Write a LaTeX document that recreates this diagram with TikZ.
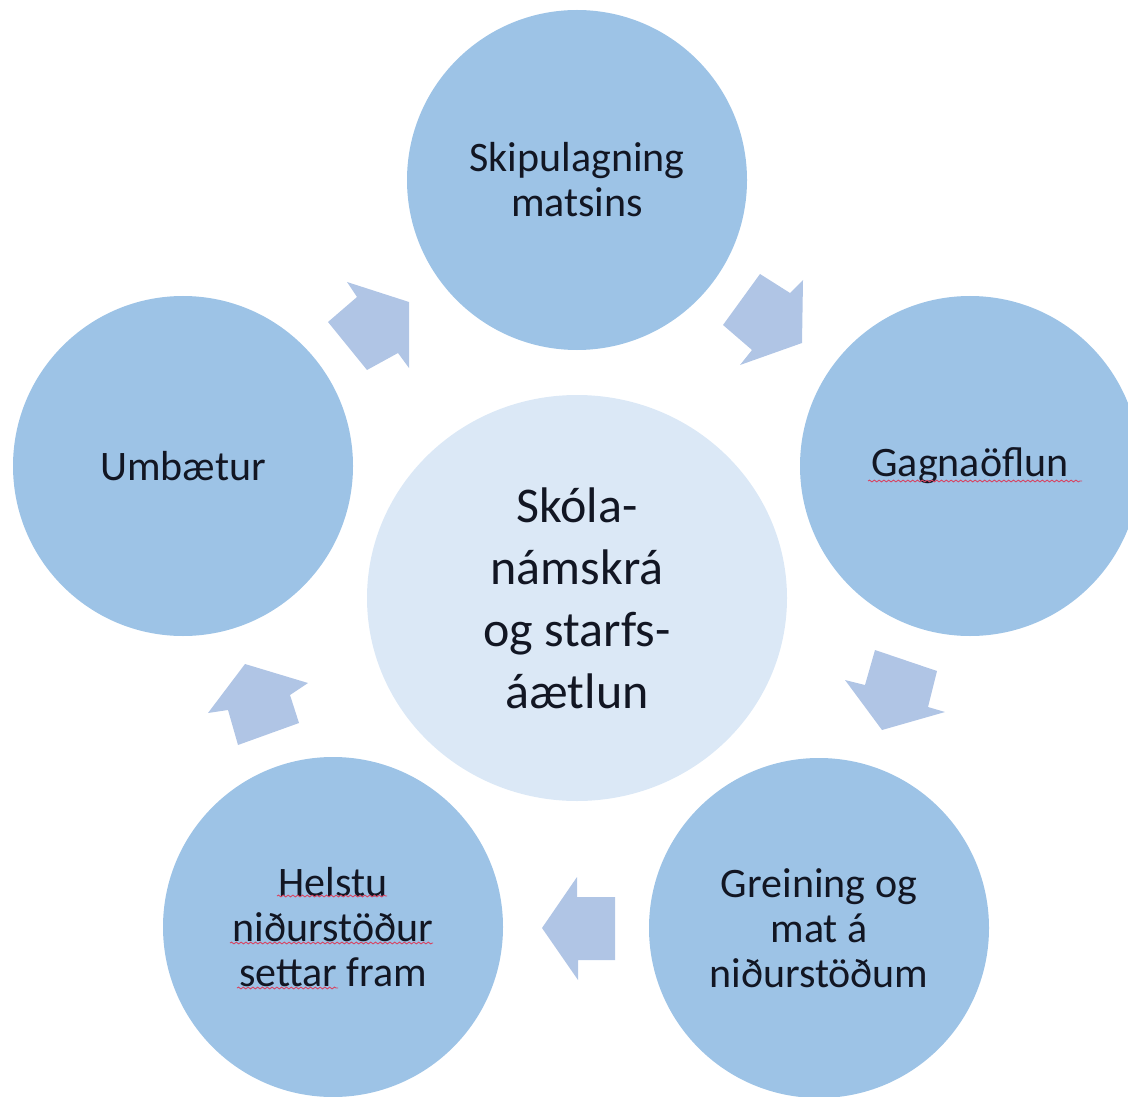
\documentclass[tikz,border=0pt]{standalone}
\usepackage{fontspec}
\setmainfont{Carlito}
\usetikzlibrary{shapes.geometric,decorations.pathmorphing}
\definecolor{circfill}{RGB}{157,195,230}
\definecolor{centfill}{RGB}{219,232,246}
\definecolor{arrfill}{RGB}{176,197,229}
\definecolor{txt}{RGB}{18,22,35}
\definecolor{squig}{RGB}{214,70,100}
\begin{document}
\begin{tikzpicture}[x=0.5pt,y=-0.5pt,
  stage/.style={circle, fill=circfill, draw=none, minimum size=170pt, inner sep=0pt, outer sep=0pt,
    text=txt, align=center, font=\fontsize{21}{22.5}\selectfont},
  hub/.style={ellipse, fill=centfill, draw=none, minimum width=210pt, minimum height=203pt,
    inner sep=0pt, outer sep=0pt, text=txt, align=center, font=\fontsize{25}{31}\selectfont},
  blockarrow/.style={fill=arrfill, draw=none},
  spell/.style={draw=squig, line width=0.45pt, decorate,
    decoration={snake, amplitude=0.45pt, segment length=2.4pt}}]
\useasboundingbox (0,0) rectangle (1128,1096);
\clip (0,0) rectangle (1128,1096);

% nodes
\node[hub] (hub) at (577,598) {Skóla-\\námskrá\\og starfs-\\áætlun};
\node[stage] (plan) at (577,180) {Skipulagning\\matsins};
\node[stage] (data) at (970,466) {Gagnaöflun};
\node[stage] (anal) at (819,928) {Greining og\\mat á\\niðurstöðum};
\node[stage] (res)  at (333,927) {Helstu\\niðurstöður\\settar fram};
\node[stage] (impr) at (183,466) {Umbætur};

% block arrows
\fill[blockarrow] (328,322) -- (357,297) -- (347,282) -- (409,302) -- (409,368) -- (398,353) -- (367,370) -- cycle;
\fill[blockarrow] (760,274) -- (790,293) -- (803,280) -- (802,343) -- (740,365) -- (752,350) -- (723,325) -- cycle;
\fill[blockarrow] (875,650) -- (937,671) -- (928,707) -- (945,712) -- (882,730) -- (845,680) -- (865,685) -- cycle;
\fill[blockarrow] (615,897) -- (615,960) -- (578,960) -- (578,980) -- (542,928) -- (577,877) -- (577,897) -- cycle;
\fill[blockarrow] (238,745) -- (299,723) -- (290,695) -- (308,683) -- (245,664) -- (208,713) -- (228,710) -- cycle;

% spell-check underlines
\draw[spell] (868,481) -- (1082,481);
\draw[spell] (277,896) -- (387,896);
\draw[spell] (230,943) -- (433,943);
\draw[spell] (237,988) -- (338,988);
\end{tikzpicture}
\end{document}
